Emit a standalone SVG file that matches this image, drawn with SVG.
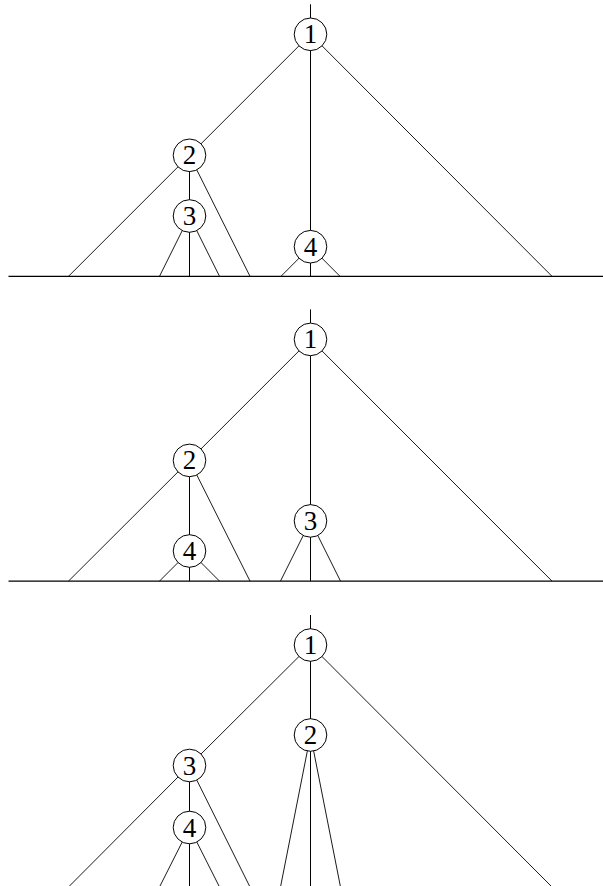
<svg xmlns="http://www.w3.org/2000/svg" width="603" height="886" viewBox="0 0 603 886">
<style>
.e{stroke:#000;stroke-width:0.9;fill:none}
.v{stroke:#000;stroke-width:1;fill:none}
.b{stroke:#000;stroke-width:1.3}
.n circle{fill:#fff;stroke:#000;stroke-width:1}
.n text{font-family:"Liberation Serif","DejaVu Serif",serif;font-size:27px;text-anchor:middle;fill:#000}
</style>
<rect width="603" height="886" fill="#fff"/>
<g id="connectors">
<!-- panel 1 -->
<line class="b" x1="8.5" y1="276.3" x2="603" y2="276.3"/>
<line class="v" x1="310.5" y1="4.3" x2="310.5" y2="34.3"/>
<line class="e" x1="310.5" y1="34.3" x2="189.5" y2="155.3"/>
<line class="v" x1="310.5" y1="34.3" x2="310.5" y2="246.7"/>
<line class="e" x1="310.5" y1="34.3" x2="552" y2="276.3"/>
<line class="e" x1="189.5" y1="155.3" x2="68.5" y2="276.3"/>
<line class="v" x1="189.5" y1="155.3" x2="189.5" y2="216"/>
<line class="e" x1="189.5" y1="155.3" x2="250" y2="276.3"/>
<line class="e" x1="189.5" y1="216" x2="159.5" y2="276.3"/>
<line class="v" x1="189.5" y1="216" x2="189.5" y2="276.3"/>
<line class="e" x1="189.5" y1="216" x2="219.5" y2="276.3"/>
<line class="e" x1="310.5" y1="246.7" x2="281" y2="276.3"/>
<line class="v" x1="310.5" y1="246.7" x2="310.5" y2="276.3"/>
<line class="e" x1="310.5" y1="246.7" x2="340" y2="276.3"/>
<!-- panel 2 -->
<line class="b" x1="8.5" y1="581.1" x2="603" y2="581.1"/>
<line class="v" x1="310.5" y1="309.4" x2="310.5" y2="339.4"/>
<line class="e" x1="310.5" y1="339.4" x2="189.5" y2="460.4"/>
<line class="v" x1="310.5" y1="339.4" x2="310.5" y2="520.9"/>
<line class="e" x1="310.5" y1="339.4" x2="552" y2="581.1"/>
<line class="e" x1="189.5" y1="460.4" x2="68.5" y2="581.1"/>
<line class="v" x1="189.5" y1="460.4" x2="189.5" y2="551"/>
<line class="e" x1="189.5" y1="460.4" x2="250" y2="581.1"/>
<line class="e" x1="189.5" y1="551" x2="159.5" y2="581.1"/>
<line class="v" x1="189.5" y1="551" x2="189.5" y2="581.1"/>
<line class="e" x1="189.5" y1="551" x2="219.5" y2="581.1"/>
<line class="e" x1="310.5" y1="520.9" x2="280.5" y2="581.1"/>
<line class="v" x1="310.5" y1="520.9" x2="310.5" y2="581.1"/>
<line class="e" x1="310.5" y1="520.9" x2="340.5" y2="581.1"/>
<!-- panel 3 -->
<line class="v" x1="310.5" y1="615" x2="310.5" y2="645"/>
<line class="e" x1="310.5" y1="645" x2="189.5" y2="765.5"/>
<line class="v" x1="310.5" y1="645" x2="310.5" y2="735"/>
<line class="e" x1="310.5" y1="645" x2="552" y2="887"/>
<line class="e" x1="310.5" y1="735" x2="280.5" y2="887"/>
<line class="v" x1="310.5" y1="735" x2="310.5" y2="887"/>
<line class="e" x1="310.5" y1="735" x2="340.5" y2="887"/>
<line class="e" x1="189.5" y1="765.5" x2="68.5" y2="887"/>
<line class="v" x1="189.5" y1="765.5" x2="189.5" y2="827.5"/>
<line class="e" x1="189.5" y1="765.5" x2="250" y2="887"/>
<line class="e" x1="189.5" y1="827.5" x2="159.5" y2="887"/>
<line class="v" x1="189.5" y1="827.5" x2="189.5" y2="887"/>
<line class="e" x1="189.5" y1="827.5" x2="219.5" y2="887"/>
</g>
<g id="p1n1" class="n"><circle cx="310.5" cy="34.3" r="16.3"/><text x="310.5" y="43.3">1</text></g>
<g id="p1n2" class="n"><circle cx="189.5" cy="155.3" r="16.3"/><text x="189.5" y="164.3">2</text></g>
<g id="p1n3" class="n"><circle cx="189.5" cy="216" r="16.3"/><text x="189.5" y="225">3</text></g>
<g id="p1n4" class="n"><circle cx="310.5" cy="246.7" r="16.3"/><text x="310.5" y="255.7">4</text></g>
<g id="p2n1" class="n"><circle cx="310.5" cy="339.4" r="16.3"/><text x="310.5" y="348.4">1</text></g>
<g id="p2n2" class="n"><circle cx="189.5" cy="460.4" r="16.3"/><text x="189.5" y="469.4">2</text></g>
<g id="p2n3" class="n"><circle cx="310.5" cy="520.9" r="16.3"/><text x="310.5" y="529.9">3</text></g>
<g id="p2n4" class="n"><circle cx="189.5" cy="551" r="16.3"/><text x="189.5" y="560">4</text></g>
<g id="p3n1" class="n"><circle cx="310.5" cy="645" r="16.3"/><text x="310.5" y="654">1</text></g>
<g id="p3n2" class="n"><circle cx="310.5" cy="735" r="16.3"/><text x="310.5" y="744">2</text></g>
<g id="p3n3" class="n"><circle cx="189.5" cy="765.5" r="16.3"/><text x="189.5" y="774.5">3</text></g>
<g id="p3n4" class="n"><circle cx="189.5" cy="827.5" r="16.3"/><text x="189.5" y="836.5">4</text></g>
</svg>
